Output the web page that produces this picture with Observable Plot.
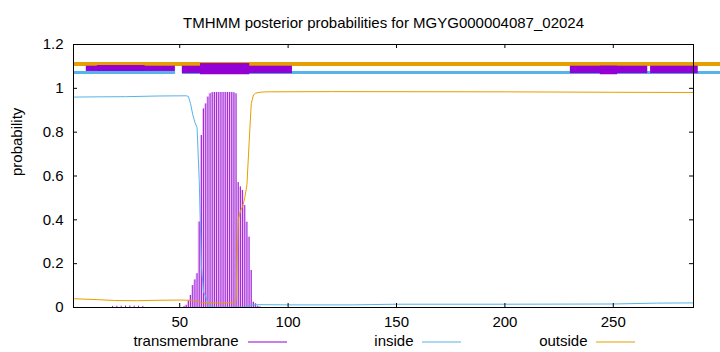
<!DOCTYPE html>
<html><head><meta charset="utf-8">
<script src="https://cdn.jsdelivr.net/npm/d3@7"></script>
<script src="https://cdn.jsdelivr.net/npm/@observablehq/plot@0.6"></script>
<style>body{margin:0;background:#fff} svg{display:block}</style>
</head><body><div id="chart"></div>
<script>
const title = "TMHMM posterior probabilities for MGYG000004087_02024";
const yLabel = "probability";
const seriesNames = ["transmembrane", "inside", "outside"];
const seriesColors = ["#9400d3", "#56b4e9", "#e69f00"];
const xTicks = [50, 100, 150, 200, 250];
const yTicks = [0, 0.2, 0.4, 0.6, 0.8, 1, 1.2];

// transmembrane posterior (impulses)
const tmPos  = [19, 21, 23, 25, 27, 29, 31, 33,
  52, 53, 54, 55, 56, 57, 58, 59, 60, 61, 62, 63, 64, 65, 66, 67, 68, 69, 70, 71, 72, 73, 74, 75, 76, 77, 78, 79, 80, 81, 82, 83, 84, 85, 86, 87];
const tmProb = [0.005, 0.006, 0.006, 0.007, 0.007, 0.006, 0.006, 0.005,
  0.004, 0.01, 0.03, 0.055, 0.10, 0.126, 0.154, 0.39, 0.785, 0.906, 0.929, 0.96, 0.975, 0.98, 0.981, 0.981, 0.981, 0.981, 0.981, 0.981, 0.981, 0.981, 0.981, 0.98, 0.975, 0.57, 0.55, 0.534, 0.465, 0.389, 0.321, 0.169, 0.024, 0.017, 0.006, 0.003];

// inside posterior
const inPos  = [1, 10, 25, 40, 53, 54, 55, 56, 57, 58, 59, 60, 61, 62, 63, 64, 66, 78, 80, 82, 84, 86, 100, 130, 150, 200, 250, 270, 287];
const inProb = [0.960, 0.961, 0.962, 0.965, 0.966, 0.963, 0.93, 0.88, 0.845, 0.82, 0.58, 0.19, 0.07, 0.05, 0.02, 0.006, 0.001, 0.001, 0.003, 0.008, 0.012, 0.013, 0.012, 0.012, 0.015, 0.015, 0.016, 0.02, 0.021];

// outside posterior
const outPos  = [1, 12, 20, 30, 40, 50, 56, 58, 60, 70, 75, 76, 77, 78, 79, 80, 81, 82, 83, 84, 85, 87, 90, 120, 200, 250, 287];
const outProb = [0.040, 0.036, 0.032, 0.031, 0.033, 0.034, 0.033, 0.03, 0.022, 0.021, 0.022, 0.03, 0.40, 0.44, 0.46, 0.50, 0.56, 0.75, 0.93, 0.97, 0.978, 0.982, 0.984, 0.985, 0.984, 0.982, 0.981];

// top topology bars
const barSeries = ["outside", "inside", "inside", "transmembrane", "transmembrane", "transmembrane", "transmembrane", "transmembrane", "transmembrane", "transmembrane"];
const barStart  = [1, 1, 51.3, 6.9, 12, 51.2, 59.6, 230.2, 244, 267.2];
const barEnd    = [299.7, 48.1, 299.7, 48.0, 34, 102, 82.3, 265.9, 252, 289.2];
const barLow    = [1.0996, 1.0631, 1.0631, 1.077, 1.077, 1.067, 1.062, 1.067, 1.062, 1.067];
const barHigh   = [1.1178, 1.0768, 1.0768, 1.101, 1.104, 1.101, 1.113, 1.101, 1.101, 1.101];

const color = name => seriesColors[seriesNames.indexOf(name)];
const tm = tmPos.map((x, i) => ({x, p: tmProb[i]}));
const ins = inPos.map((x, i) => ({x, p: inProb[i]}));
const out = outPos.map((x, i) => ({x, p: outProb[i]}));
const bars = barSeries.map((s, i) => ({s, x1: barStart[i], x2: barEnd[i], y1: barLow[i], y2: barHigh[i]}));
const tmCore = tm.filter(d => d.x >= 50);

const W = 720, H = 352, mL = 73, mR = 27, mT = 44, mB = 45;
const fw = W - mL - mR, fh = H - mT - mB;
const font = "'Liberation Sans', Arial, Helvetica, sans-serif";

const plot = Plot.plot({
  width: W, height: H,
  marginLeft: mL, marginRight: mR, marginTop: mT, marginBottom: mB,
  style: {fontFamily: font, fontSize: "15px", color: "#000", background: "#fff"},
  x: {domain: [1, 287]},
  y: {domain: [0, 1.2]},
  marks: [
    Plot.rect(bars.filter(d => d.s !== "transmembrane"), {x1: "x1", x2: "x2", y1: "y1", y2: "y2", fill: d => color(d.s)}),
    Plot.rect(bars.filter(d => d.s === "transmembrane"), {x1: "x1", x2: "x2", y1: "y1", y2: "y2", fill: d => color(d.s)}),
    Plot.areaY(tmCore, {x: "x", y: "p", curve: "step", fill: color("transmembrane"), fillOpacity: 0.22}),
    Plot.ruleX(tm, {x: "x", y1: 0, y2: "p", stroke: color("transmembrane"), strokeWidth: 1, strokeOpacity: 0.85}),
    Plot.line(ins, {x: "x", y: "p", stroke: color("inside"), strokeWidth: 1}),
    Plot.line(out, {x: "x", y: "p", stroke: color("outside"), strokeWidth: 1}),
    Plot.tickX(xTicks, {x: d => d, insetTop: fh - 4, stroke: "#000"}),
    Plot.tickX(xTicks, {x: d => d, insetBottom: fh - 4, stroke: "#000"}),
    Plot.tickY(yTicks, {y: d => d, insetRight: fw - 4, stroke: "#000"}),
    Plot.tickY(yTicks, {y: d => d, insetLeft: fw - 4, stroke: "#000"}),
    Plot.frame({stroke: "#000"}),
    Plot.axisX({ticks: xTicks, tickSize: 0, tickPadding: 9, label: null, fontSize: 15}),
    Plot.axisY({ticks: yTicks, tickSize: 0, tickPadding: 10, label: null, fontSize: 15, tickFormat: d => String(d)}),
    Plot.text([title], {frameAnchor: "top", lineAnchor: "bottom", dy: -17, fontSize: 15}),
    Plot.text([yLabel], {frameAnchor: "left", rotate: -90, lineAnchor: "middle", dx: -56, fontSize: 15}),
    Plot.text([seriesNames[0]], {frameAnchor: "bottom-left", textAnchor: "end", lineAnchor: "bottom", dx: 165, dy: 38, fontSize: 15}),
    Plot.text([seriesNames[1]], {frameAnchor: "bottom-left", textAnchor: "end", lineAnchor: "bottom", dx: 340, dy: 38, fontSize: 15}),
    Plot.text([seriesNames[2]], {frameAnchor: "bottom-left", textAnchor: "end", lineAnchor: "bottom", dx: 514, dy: 38, fontSize: 15})
  ]
});

// legend sample lines
const svg = d3.select(plot);
const legendX = [248, 422, 596];
seriesNames.forEach((name, i) => {
  svg.append("line")
    .attr("x1", legendX[i]).attr("x2", legendX[i] + 39)
    .attr("y1", 342).attr("y2", 342)
    .style("stroke", color(name)).style("stroke-width", "1.2px");
});

document.getElementById("chart").appendChild(plot);
</script>
</body></html>
